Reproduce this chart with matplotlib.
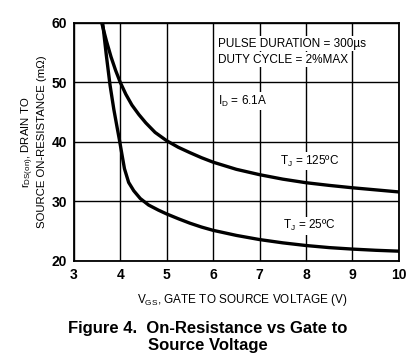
import numpy as np
import matplotlib.pyplot as plt

plt.rcParams['font.family'] = ['Liberation Sans', 'DejaVu Sans']
plt.rcParams['mathtext.fontset'] = 'custom'
plt.rcParams['mathtext.rm'] = 'Liberation Sans'
plt.rcParams['mathtext.it'] = 'Liberation Sans'

# On-resistance curves (V_GS in V, r_DS(on) in mOhm)
vgs_125 = [3.60, 3.70, 3.80, 3.90, 4.00, 4.12, 4.25, 4.40, 4.55, 4.75, 5.0, 5.25, 5.5, 5.75, 6.0, 6.5, 7.0, 7.5, 8.0, 8.5, 9.0, 9.5, 10.0]
rds_125 = [60.0, 57.0, 54.3, 52.0, 50.0, 48.0, 46.2, 44.6, 43.2, 41.6, 40.2, 39.1, 38.2, 37.35, 36.6, 35.4, 34.5, 33.75, 33.15, 32.7, 32.3, 31.95, 31.6]

vgs_25 = [3.62, 3.70, 3.78, 3.86, 3.93, 3.98, 4.04, 4.09, 4.18, 4.29, 4.43, 4.61, 4.82, 5.0, 5.25, 5.5, 5.75, 6.0, 6.5, 7.0, 7.5, 8.0, 8.5, 9.0, 9.5, 10.0]
rds_25 = [60.0, 54.5, 49.5, 45.5, 42.5, 40.4, 37.7, 35.5, 33.2, 31.8, 30.5, 29.4, 28.55, 27.9, 27.1, 26.35, 25.7, 25.15, 24.3, 23.6, 23.05, 22.6, 22.25, 22.0, 21.8, 21.65]

x_ticks = [3, 4, 5, 6, 7, 8, 9, 10]
y_ticks = [20, 30, 40, 50, 60]

fig = plt.figure(figsize=(4.15, 3.63), dpi=100)
ax = fig.add_axes([0.178, 0.281, 0.783, 0.656])

ax.plot(vgs_125, rds_125, color='black', lw=2.4, solid_capstyle='round')
ax.plot(vgs_25, rds_25, color='black', lw=2.4, solid_capstyle='round')

ax.set_xlim(3, 10)
ax.set_ylim(20, 60)
ax.set_xticks(x_ticks)
ax.set_yticks(y_ticks)
ax.grid(True, color='black', lw=1.0)
ax.set_axisbelow(True)
ax.tick_params(length=0, pad=5, labelsize=10)
for lab in ax.get_xticklabels() + ax.get_yticklabels():
    lab.set_fontweight('bold')
for s in ax.spines.values():
    s.set_linewidth(1.3)

ax.set_xlabel(r'V$_\mathregular{GS}$, GATE TO SOURCE VOLTAGE (V)', fontsize=8.5, labelpad=6)
ax.xaxis.set_label_coords(0.52, -0.13)
ax.set_ylabel('r$_\\mathregular{DS(on)}$, DRAIN TO\nSOURCE ON-RESISTANCE (m\u03a9)',
              fontsize=8.2, labelpad=3, linespacing=1.15)

box = dict(facecolor='white', edgecolor='none', pad=1.0)
txt = dict(fontsize=8.5, va='center', ha='left', bbox=box)
ax.text(6.1, 56.5, 'PULSE DURATION = 300\u00b5s', **txt)
ax.text(6.1, 53.8, 'DUTY CYCLE = 2%MAX', **txt)
ax.text(6.1, 46.8, r'I$_\mathregular{D}$ = 6.1A', **txt)
ax.text(7.45, 36.8, 'T$_\\mathregular{J}$ = 125\u00baC', **txt)
ax.text(7.5, 25.9, 'T$_\\mathregular{J}$ = 25\u00baC', **txt)

fig.text(0.50, 0.071, 'Figure 4.  On-Resistance vs Gate to\nSource Voltage', ha='center', va='center',
         fontsize=12, fontweight='bold', linespacing=1.2)

fig.savefig('out.png', dpi=100)
